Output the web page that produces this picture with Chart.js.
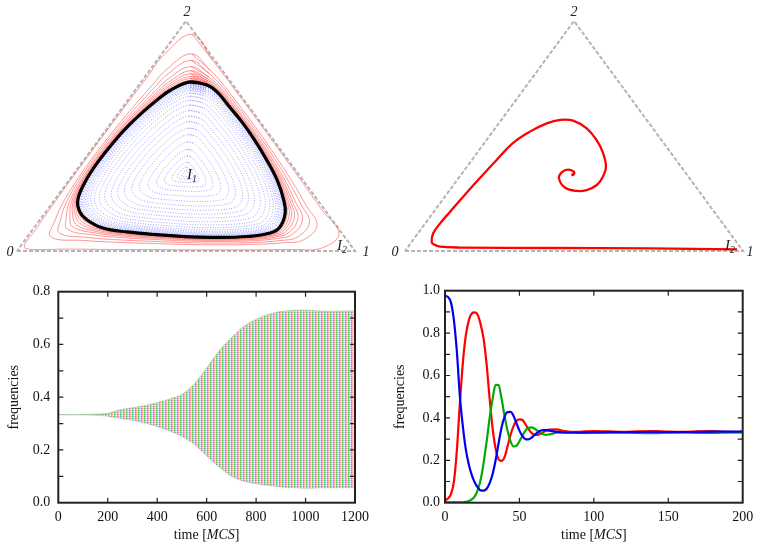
<!DOCTYPE html>
<html><head><meta charset="utf-8">
<script src="https://cdn.jsdelivr.net/npm/chart.js@4.4.0/dist/chart.umd.min.js"></script>
<style>
html,body{margin:0;padding:0;background:#fff;}
#wrap{position:relative;width:763px;height:546px;overflow:hidden;}
canvas{position:absolute;}
</style></head><body>
<div id="wrap">
<canvas id="c1" width="381" height="270" style="left:0;top:0"></canvas>
<canvas id="c2" width="382" height="270" style="left:381px;top:0"></canvas>
<canvas id="c3" width="381" height="276" style="left:0;top:270px"></canvas>
<canvas id="c4" width="382" height="276" style="left:381px;top:270px"></canvas>
</div>
<script>
// ---------- DATA ----------
// Ternary points are frequencies [x1, x2] of strategies 1 and 2 (x0 = 1 - x1 - x2)
const vertexNames = ['0', '1', '2'];
const limitCycle = [[0.145,0.735],[0.201,0.722],[0.247,0.691],[0.316,0.626],[0.389,0.557],[0.461,0.483],[0.529,0.409],[0.615,0.309],[0.678,0.222],[0.711,0.165],[0.726,0.104],[0.710,0.078],[0.649,0.063],[0.551,0.059],[0.482,0.061],[0.388,0.070],[0.284,0.083],[0.204,0.100],[0.140,0.135],[0.101,0.170],[0.069,0.222],[0.052,0.296],[0.046,0.383],[0.050,0.483],[0.058,0.548],[0.070,0.604],[0.086,0.657],[0.105,0.700]];
const interiorPoint = [1/3, 1/3];
// inner (blue) orbits: size relative to the limit cycle, read outward from I1
const innerOrbitLevels = [0.04,0.08,0.13,0.20,0.27,0.35,0.43,0.50,0.57,0.63,0.69,0.75,0.80,0.845,0.88,0.905,0.925,0.94,0.955,0.967,0.978,0.988];
// outer (red) orbits: position between limit cycle (0) and simplex edge (1)
const outerOrbitLevels = [0.035,0.07,0.11,0.16,0.22,0.30,0.42,0.55,0.93];
const spiralTrajectory = [[0.979,0.007],[0.719,0.011],[0.422,0.013],[0.155,0.015],[0.094,0.019],[0.072,0.028],[0.059,0.040],[0.045,0.077],[0.044,0.120],[0.048,0.171],[0.054,0.236],[0.063,0.317],[0.073,0.396],[0.085,0.470],[0.110,0.519],[0.142,0.555],[0.174,0.570],[0.214,0.567],[0.271,0.533],[0.325,0.483],[0.373,0.426],[0.411,0.367],[0.424,0.323],[0.424,0.287],[0.405,0.265],[0.378,0.261],[0.335,0.276],[0.297,0.317],[0.293,0.343],[0.305,0.354],[0.329,0.343],[0.332,0.330],[0.325,0.335]];

// Long-run oscillation envelope (bottom left)
const envTime  = [0,100,200,250,300,350,400,450,500,550,600,650,700,750,800,850,900,950,1000,1050,1100,1150,1200];
const envUpper = [0.334,0.334,0.339,0.352,0.360,0.368,0.379,0.393,0.410,0.450,0.510,0.575,0.625,0.668,0.695,0.714,0.725,0.729,0.730,0.727,0.726,0.727,0.727];
const envLower = [0.333,0.333,0.328,0.320,0.313,0.302,0.289,0.272,0.252,0.222,0.178,0.135,0.100,0.081,0.072,0.065,0.060,0.057,0.055,0.056,0.057,0.057,0.058];
const leftXTicks = [0,200,400,600,800,1000,1200];

// Damped oscillation (bottom right)
const time = [0,2,4,6,8,10,12,14,16,18,20,22,24,26,28,30,32,34,36,38,40,42,44,46,48,50,52,54,56,58,60,62,64,66,68,70,75,80,90,100,110,120,130,140,150,160,170,180,190,200];
const freqRed   = [0.010,0.020,0.040,0.100,0.250,0.470,0.660,0.790,0.860,0.893,0.898,0.885,0.840,0.770,0.650,0.490,0.350,0.255,0.205,0.197,0.215,0.265,0.320,0.360,0.385,0.393,0.390,0.370,0.348,0.330,0.320,0.320,0.325,0.333,0.341,0.345,0.346,0.338,0.334,0.338,0.336,0.334,0.337,0.338,0.335,0.334,0.337,0.338,0.334,0.333];
const freqGreen = [0.002,0.002,0.002,0.002,0.002,0.002,0.002,0.004,0.008,0.016,0.030,0.060,0.110,0.190,0.290,0.400,0.490,0.556,0.555,0.490,0.410,0.340,0.290,0.265,0.268,0.290,0.315,0.340,0.352,0.355,0.350,0.340,0.330,0.323,0.320,0.322,0.330,0.334,0.331,0.329,0.330,0.332,0.329,0.328,0.331,0.332,0.329,0.329,0.331,0.332];
const freqBlue  = [0.975,0.970,0.945,0.860,0.710,0.500,0.360,0.250,0.180,0.130,0.095,0.072,0.058,0.057,0.066,0.092,0.135,0.200,0.280,0.355,0.405,0.427,0.428,0.410,0.375,0.340,0.314,0.300,0.299,0.306,0.318,0.330,0.339,0.343,0.342,0.340,0.334,0.331,0.331,0.333,0.333,0.332,0.333,0.334,0.333,0.333,0.334,0.335,0.335,0.336];
const rightXTicks = [0,50,100,150,200];

// ---------- HELPERS ----------
const SERIF = '"Liberation Serif","Times New Roman",serif';
Chart.defaults.font.family = SERIF;
Chart.defaults.font.size = 14;
Chart.defaults.color = '#111';
Chart.defaults.animation = false;

const toXY = p => ({x: p[0] + p[1] / 2, y: p[1]});
const bary = p => [1 - p[0] - p[1], p[0], p[1]];
const C = bary(interiorPoint);
function scaleAbout(p, lam) {
  const b = bary(p);
  return [C[1] + lam * (b[1] - C[1]), C[2] + lam * (b[2] - C[2])];
}
function edgeLambda(p) {
  const b = bary(p); let m = Infinity;
  for (let i = 0; i < 3; i++) { const u = b[i] - C[i]; if (u < 0) m = Math.min(m, C[i] / (-u)); }
  return m;
}
const closed = arr => arr.concat([arr[0], arr[1]]);
const triangle = [[0,0],[1,0],[0,1],[0,0]];

function ternaryLabels(opts) {
  return {
    id: 'tlabels',
    afterDatasetsDraw(chart) {
      const {ctx, scales: {x, y}} = chart;
      const P = p => { const q = toXY(p); return [x.getPixelForValue(q.x), y.getPixelForValue(q.y)]; };
      ctx.save();
      ctx.fillStyle = '#222'; ctx.textAlign = 'center'; ctx.textBaseline = 'middle';
      ctx.font = 'italic 14px ' + SERIF;
      const verts = [[0,0],[1,0],[0,1]];
      verts.forEach((v, i) => {
        const [px, py] = P(v);
        ctx.fillText(vertexNames[i], px + opts.vOff[i][0], py + opts.vOff[i][1]);
      });
      opts.marks.forEach(m => {
        const [px, py] = P(m.at);
        ctx.font = 'italic 15px ' + SERIF; ctx.textAlign = 'left';
        ctx.fillText('I', px + m.dx - 3, py + m.dy);
        const w = ctx.measureText('I').width;
        ctx.font = 'italic 10px ' + SERIF;
        ctx.fillText(m.sub, px + m.dx - 3 + w, py + m.dy + 4);
      });
      ctx.restore();
    }
  };
}
const hiddenScales = {
  x: {type: 'linear', min: 0, max: 1, display: false},
  y: {type: 'linear', min: 0, max: 1, display: false}
};
const triDataset = {
  data: triangle.map(toXY), borderColor: '#b4b4b4', borderWidth: 2, borderDash: [4, 2],
  pointRadius: 0, tension: 0, clip: false, fill: false
};

// ---------- TOP LEFT ----------
const dsLeft = [];
dsLeft.push({data: closed(limitCycle).map(toXY), borderColor: '#000', borderWidth: 3.2, pointRadius: 0, tension: 0.4, clip: false});
outerOrbitLevels.forEach(t => {
  dsLeft.push({
    data: closed(limitCycle.map(p => scaleAbout(p, 1 + t * (edgeLambda(p) - 1) * 0.985))).map(toXY),
    borderColor: 'rgba(255,80,80,0.6)', borderWidth: 1, pointRadius: 0, tension: 0.4, clip: false
  });
});
innerOrbitLevels.forEach(s => {
  dsLeft.push({
    data: closed(limitCycle.map(p => scaleAbout(p, s))).map(toXY),
    borderColor: 'rgba(90,90,255,0.55)', borderWidth: 1, borderDash: [1, 1.6], pointRadius: 0, tension: 0.4, clip: false
  });
});
dsLeft.push(triDataset);
new Chart(document.getElementById('c1'), {
  type: 'line',
  data: {datasets: dsLeft},
  options: {
    responsive: false,
    layout: {padding: {left: 17, top: 21, right: 26, bottom: 19}},
    scales: hiddenScales,
    plugins: {legend: {display: false}, tooltip: {enabled: false}}
  },
  plugins: [ternaryLabels({
    vOff: [[-7, 1], [11, 1], [1, -9]],
    marks: [{at: interiorPoint, dx: 4, dy: 1, sub: '1'}, {at: [1, 0], dx: -15, dy: -5, sub: '2'}]
  })]
});

// ---------- TOP RIGHT ----------
new Chart(document.getElementById('c2'), {
  type: 'line',
  data: {datasets: [
    {data: spiralTrajectory.map(toXY), borderColor: '#ff0000', borderWidth: 2.3, pointRadius: 0, tension: 0.4, clip: false},
    Object.assign({}, triDataset)
  ]},
  options: {
    responsive: false,
    layout: {padding: {left: 24, top: 21, right: 20, bottom: 19}},
    scales: hiddenScales,
    plugins: {legend: {display: false}, tooltip: {enabled: false}}
  },
  plugins: [ternaryLabels({
    vOff: [[-10, 1], [7, 1], [0, -9]],
    marks: [{at: [1, 0], dx: -15, dy: -5, sub: '2'}]
  })]
});

// ---------- BOTTOM PANELS ----------
const framePlugin = {
  id: 'frame',
  afterDraw(chart, args, o) {
    const {ctx, chartArea: a, scales: {x, y}} = chart;
    ctx.save();
    ctx.strokeStyle = '#222'; ctx.lineWidth = 1.2;
    ctx.beginPath();
    x.ticks.forEach(t => {
      const p = x.getPixelForValue(t.value);
      if (p <= a.left + 1 || p >= a.right - 1) return;
      ctx.moveTo(p, a.bottom); ctx.lineTo(p, a.bottom - 5);
      ctx.moveTo(p, a.top); ctx.lineTo(p, a.top + 5);
    });
    y.ticks.forEach(t => {
      const p = y.getPixelForValue(t.value);
      if (p <= a.top + 1 || p >= a.bottom - 1) return;
      ctx.moveTo(a.left, p); ctx.lineTo(a.left + 5, p);
      ctx.moveTo(a.right, p); ctx.lineTo(a.right - 5, p);
    });
    ctx.stroke();
    ctx.lineWidth = 2; ctx.strokeStyle = '#222';
    ctx.strokeRect(a.left, a.top, a.right - a.left, a.bottom - a.top);
    // titles
    ctx.fillStyle = '#111'; ctx.textBaseline = 'middle';
    ctx.save();
    ctx.translate(o.yTitleX, (a.top + a.bottom) / 2);
    ctx.rotate(-Math.PI / 2);
    ctx.font = '14px ' + SERIF; ctx.textAlign = 'center';
    ctx.fillText('frequencies', 0, 0);
    ctx.restore();
    const parts = [['time [', '14px '], ['MCS', 'italic 14px '], [']', '14px ']];
    let total = 0;
    parts.forEach(pt => { ctx.font = pt[1] + SERIF; total += ctx.measureText(pt[0]).width; });
    let cx = (a.left + a.right) / 2 - total / 2;
    ctx.textAlign = 'left';
    parts.forEach(pt => { ctx.font = pt[1] + SERIF; ctx.fillText(pt[0], cx, o.xTitleY); cx += ctx.measureText(pt[0]).width; });
    ctx.restore();
  }
};
const yLabel = v => (Math.round(v * 10) % 2 === 0 ? v.toFixed(1) : '');
function bottomOptions(cfg) {
  return {
    responsive: false,
    layout: {padding: {left: 0, top: cfg.top, right: cfg.right, bottom: 0}},
    scales: {
      x: {type: 'linear', min: cfg.xTicks[0], max: cfg.xTicks[cfg.xTicks.length - 1],
          grid: {display: false, drawTicks: false}, border: {display: false},
          afterBuildTicks: s => { s.ticks = cfg.xTicks.map(v => ({value: v})); },
          ticks: {padding: 6, autoSkip: false, maxRotation: 0, color: '#111', callback: v => String(v)},
          afterFit: s => { s.height = 43.3; }},
      y: {type: 'linear', min: 0, max: cfg.yMax,
          grid: {display: false, drawTicks: false}, border: {display: false},
          ticks: {stepSize: 0.1, padding: cfg.yPad, autoSkip: false, color: '#111', callback: yLabel},
          afterFit: s => { s.width = cfg.left; }}
    },
    plugins: {legend: {display: false}, tooltip: {enabled: false},
              frame: {yTitleX: cfg.yTitleX, xTitleY: 265}}
  };
}

// bottom left: band pattern (style only): vertical dotted stripes
const c3 = document.getElementById('c3');
const pc = document.createElement('canvas'); pc.width = 3; pc.height = 2;
const pg = pc.getContext('2d');
[[0,165,0,0.68,0.4],[255,70,70,0.5,0.28],[110,110,255,0.3,0.12]].forEach((c, i) => {
  pg.fillStyle = 'rgba(' + c[0] + ',' + c[1] + ',' + c[2] + ',' + c[3] + ')'; pg.fillRect(i, 0, 1, 1);
  pg.fillStyle = 'rgba(' + c[0] + ',' + c[1] + ',' + c[2] + ',' + c[4] + ')'; pg.fillRect(i, 1, 1, 1);
});
const stripes = c3.getContext('2d').createPattern(pc, 'repeat');

new Chart(c3, {
  type: 'line',
  data: {datasets: [
    {data: envTime.map((t, i) => ({x: t, y: envUpper[i]})), borderColor: 'rgba(120,190,120,0.5)', borderWidth: 1,
     backgroundColor: stripes, fill: '+1', pointRadius: 0, tension: 0.3},
    {data: envTime.map((t, i) => ({x: t, y: envLower[i]})), borderColor: 'rgba(200,150,220,0.45)', borderWidth: 1,
     fill: false, pointRadius: 0, tension: 0.3}
  ]},
  options: bottomOptions({top: 21.7, right: 26, left: 58.3, yMax: 0.8, yPad: 8, xTicks: leftXTicks, yTitleX: 14}),
  plugins: [framePlugin]
});

new Chart(document.getElementById('c4'), {
  type: 'line',
  data: {datasets: [
    {data: time.map((t, i) => ({x: t, y: freqBlue[i]})), borderColor: '#0000ee', borderWidth: 2.2, pointRadius: 0, cubicInterpolationMode: 'monotone'},
    {data: time.map((t, i) => ({x: t, y: freqGreen[i]})), borderColor: '#00aa00', borderWidth: 2.2, pointRadius: 0, cubicInterpolationMode: 'monotone'},
    {data: time.map((t, i) => ({x: t, y: freqRed[i]})), borderColor: '#ff0000', borderWidth: 2.2, pointRadius: 0, cubicInterpolationMode: 'monotone'}
  ]},
  options: bottomOptions({top: 20.7, right: 20.3, left: 64, yMax: 1.0, yPad: 5, xTicks: rightXTicks, yTitleX: 19.7}),
  plugins: [framePlugin]
});
</script>
</body></html>
